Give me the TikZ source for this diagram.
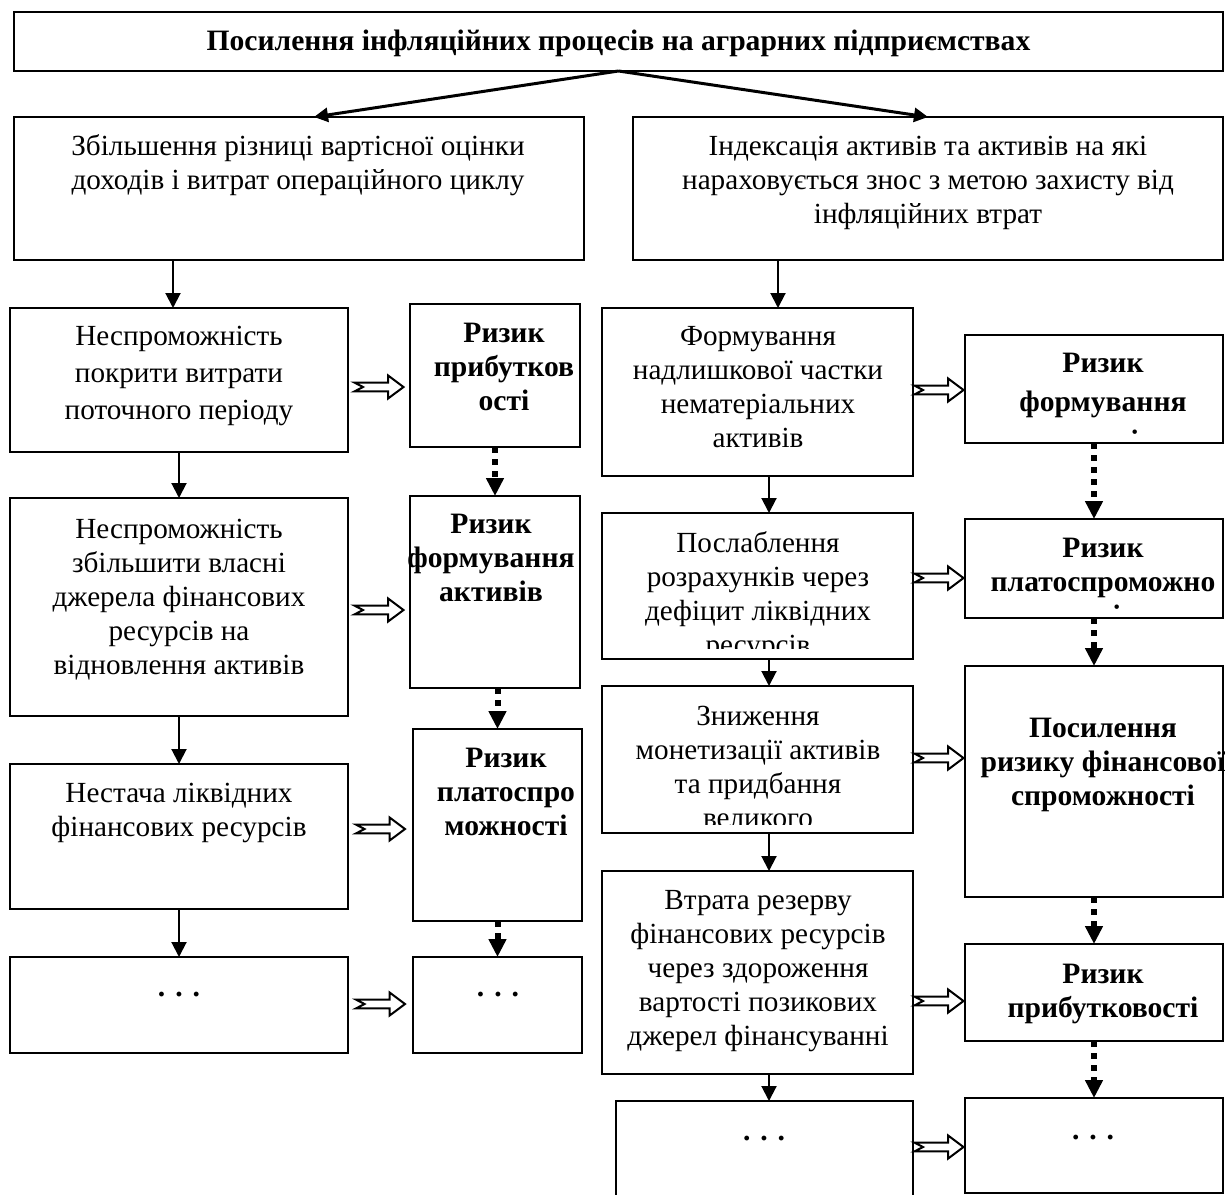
\documentclass[tikz,border=0pt]{standalone}
\usepackage{fontspec}
\setmainfont{Liberation Serif}
\usepackage{tikz}
\usetikzlibrary{arrows.meta,calc,positioning}
\tikzstyle{box} = [draw, line width=1pt, inner sep=0pt, outer sep=0pt]
\tikzstyle{txt} = [inner sep=0pt, anchor=north, align=center, font=\fontsize{14.6}{17}\selectfont]
\tikzstyle{risk} = [txt, font=\fontsize{14.8}{17}\selectfont\bfseries]
\tikzstyle{line} = [draw, line width=1pt, -{Triangle[length=7.5pt,width=7.5pt]}]
\tikzstyle{topline} = [draw, line width=1.5pt, -{Triangle[length=7pt,width=7pt]}]
\tikzstyle{dotline} = [draw, line width=3pt, dash pattern=on 3pt off 3pt, -{Triangle[length=9pt,width=8.5pt]}]
\tikzstyle{hollow} = [draw, line width=1pt, fill=white, line join=miter]
\newcommand{\topstrut}{\rule{0pt}{13pt}}
% hollow double arrow between two boxes at height #3
\newcommand{\hollowarrow}[3]{%
  \draw[hollow] let \p1=(#1.east |- 0,#3), \p2=(#2.west |- 0,#3) in
    ({(\x1+\x2)/2-12.25pt},\y1+2.2pt) -- ({(\x1+\x2)/2+4.5pt},\y1+2.2pt)
    -- ({(\x1+\x2)/2+4.5pt},\y1+5.8pt) -- ({(\x1+\x2)/2+12.25pt},\y1)
    -- ({(\x1+\x2)/2+4.5pt},\y1-5.8pt) -- ({(\x1+\x2)/2+4.5pt},\y1-2.2pt)
    -- ({(\x1+\x2)/2-12.25pt},\y1-2.2pt) -- ({(\x1+\x2)/2-8pt},\y1) -- cycle;}
\begin{document}
\begin{tikzpicture}[x=0.5pt,y=-0.5pt]
		\useasboundingbox (0,0) rectangle (1225,1194);
		
		\node[box, minimum width=604.5pt, minimum height=29.5pt] (T) at (618.5,41.5) {}; % title box
		\node[risk] (Tt) at (618.5,24) {\topstrut Посилення інфляційних процесів на аграрних підприємствах};
		
		\node[box, minimum width=285pt, minimum height=71.5pt] (L0) at (299,188.5) {}; % left branch
		\node[txt] (L0t) at (298,129) {\topstrut Збільшення різниці вартісної оцінки\\доходів і витрат операційного циклу};
		\node[box, minimum width=295pt, minimum height=71.5pt] (R0) at (928,188.5) {}; % right branch
		\node[txt] (R0t) at (928,129) {\topstrut Індексація активів та активів на які\\нараховується знос з метою захисту від\\інфляційних втрат};
		
		% left column
		\node[box, minimum width=169pt, minimum height=72pt] (L1) at (179,380) {};
		\node[txt, font=\fontsize{14.6}{18.5}\selectfont] (L1t) at (179,319) {\topstrut Неспроможність\\покрити витрати\\поточного періоду};
		\node[box, minimum width=169pt, minimum height=109pt] (L2) at (179,607) {};
		\node[txt] (L2t) at (179,512) {\topstrut Неспроможність\\збільшити власні\\джерела фінансових\\ресурсів на\\відновлення активів};
		\node[box, minimum width=169pt, minimum height=72.5pt] (L3) at (179,836.5) {};
		\node[txt] (L3t) at (179,776) {\topstrut Нестача ліквідних\\фінансових ресурсів};
		\node[box, minimum width=169pt, minimum height=48pt] (L4) at (179,1005) {};
		\node[risk] (L4t) at (179,970) {\topstrut .\hspace{5pt}.\hspace{5pt}.};
		
		% left risks
		\node[box, minimum width=85pt, minimum height=71.5pt] (LR1) at (495,375.5) {};
		\node[risk] (LR1t) at (504,316) {\topstrut Ризик\\прибутков\\ості};
		\node[box, minimum width=85pt, minimum height=96pt] (LR2) at (495,592) {};
		\node[risk] (LR2t) at (491,507) {\topstrut Ризик\\формування\\активів};
		\node[box, minimum width=84.5pt, minimum height=96pt] (LR3) at (497.5,825) {};
		\node[risk] (LR3t) at (506,741) {\topstrut Ризик\\платоспро\\можності};
		\node[box, minimum width=84.5pt, minimum height=48pt] (LR4) at (497.5,1005) {};
		\node[risk] (LR4t) at (498,970) {\topstrut .\hspace{5pt}.\hspace{5pt}.};
		
		% right column
		\node[box, minimum width=155.5pt, minimum height=84pt] (R1) at (757.5,392) {};
		\node[txt] (R1t) at (758,319) {\topstrut Формування\\надлишкової частки\\нематеріальних\\активів};
		\node[box, minimum width=155.5pt, minimum height=73pt] (R2) at (757.5,586) {};
		\begin{scope}
			\clip (R2.north west) rectangle ($(R2.south east)+(0,-11)$);
			\node[txt] (R2t) at (758,526) {\topstrut Послаблення\\розрахунків через\\дефіцит ліквідних\\ресурсів};
		\end{scope}
		\node[box, minimum width=155.5pt, minimum height=73.5pt] (R3) at (757.5,759.5) {};
		\begin{scope}
			\clip (R3.north west) rectangle ($(R3.south east)+(0,-9)$);
			\node[txt] (R3t) at (758,699) {\topstrut Зниження\\монетизації активів\\та придбання\\великого};
		\end{scope}
		\node[box, minimum width=155.5pt, minimum height=101.5pt] (R4) at (757.5,972.5) {};
		\node[txt] (R4t) at (758,883) {\topstrut Втрата резерву\\фінансових ресурсів\\через здороження\\вартості позикових\\джерел фінансуванні};
		\node[box, minimum width=148.5pt, minimum height=54.5pt] (R5) at (764.5,1155.5) {};
		\node[risk] (R5t) at (764,1114) {\topstrut . . .};
		
		% right risks
		\node[box, minimum width=129pt, minimum height=54pt] (RR1) at (1094,389) {};
		\begin{scope}
			\clip (RR1.north west) rectangle ($(RR1.south east)+(0,-10)$);
			\node[risk, font=\fontsize{14.8}{19.5}\selectfont\bfseries] (RR1t) at (1103,346) {\topstrut Ризик\\формування\\активів};
		\end{scope}
		\node[box, minimum width=129pt, minimum height=49.5pt] (RR2) at (1094,568.5) {};
		\begin{scope}
			\clip (RR2.north west) rectangle ($(RR2.south east)+(0,-10)$);
			\node[risk] (RR2t) at (1103,531) {\topstrut Ризик\\платоспроможно\\сті};
		\end{scope}
		\node[box, minimum width=129pt, minimum height=115.5pt] (RR3) at (1094,781.5) {};
		\node[risk] (RR3t) at (1103,711) {\topstrut Посилення\\ризику фінансової\\спроможності};
		\node[box, minimum width=129pt, minimum height=48.5pt] (RR4) at (1094,992.5) {};
		\node[risk] (RR4t) at (1103,957) {\topstrut Ризик\\прибутковості};
		\node[box, minimum width=129pt, minimum height=47.5pt] (RR5) at (1094,1145.5) {};
		\node[risk] (RR5t) at (1093,1113) {\topstrut . . .};
		
		\draw[topline] (T.south) -- ($(L0.north)+(15,0)$); % to left branch
		\draw[topline] (T.south) -- (R0.north); % to right branch
		
		\draw[line] ($(L0.south -| L1.north)+(-6,0)$) -- ($(L1.north)+(-6,0)$);
		\draw[line] (L1.south) -- (L2.north);
		\draw[line] (L2.south) -- (L3.north);
		\draw[line] (L3.south) -- (L4.north);
		
		\draw[line] ($(R0.south -| R1.north)+(20.5,0)$) -- ($(R1.north)+(20.5,0)$);
		\draw[line] ($(R1.south)+(11.5,0)$) -- ($(R2.north)+(11.5,0)$);
		\draw[line] ($(R2.south)+(11.5,0)$) -- ($(R3.north)+(11.5,0)$);
		\draw[line] ($(R3.south)+(11.5,0)$) -- ($(R4.north)+(11.5,0)$);
		\draw[line] ($(R4.south)+(11.5,0)$) -- ($(R5.north)+(4.5,0)$);
		
		\draw[dotline] (LR1.south) -- (LR2.north);
		\draw[dotline] (LR2.south -| LR3.north) -- (LR3.north);
		\draw[dotline] (LR3.south) -- (LR4.north);
		\draw[dotline] (RR1.south) -- (RR2.north);
		\draw[dotline] (RR2.south) -- (RR3.north);
		\draw[dotline] (RR3.south) -- (RR4.north);
		\draw[dotline] (RR4.south) -- (RR5.north);
		
		\hollowarrow{L1}{LR1}{387}
		\hollowarrow{L2}{LR2}{610}
		\hollowarrow{L3}{LR3}{829}
		\hollowarrow{L4}{LR4}{1004}
		\hollowarrow{R1}{RR1}{390}
		\hollowarrow{R2}{RR2}{578}
		\hollowarrow{R3}{RR3}{758}
		\hollowarrow{R4}{RR4}{1001}
		\hollowarrow{R5}{RR5}{1147}
		
\end{tikzpicture}
\end{document}
